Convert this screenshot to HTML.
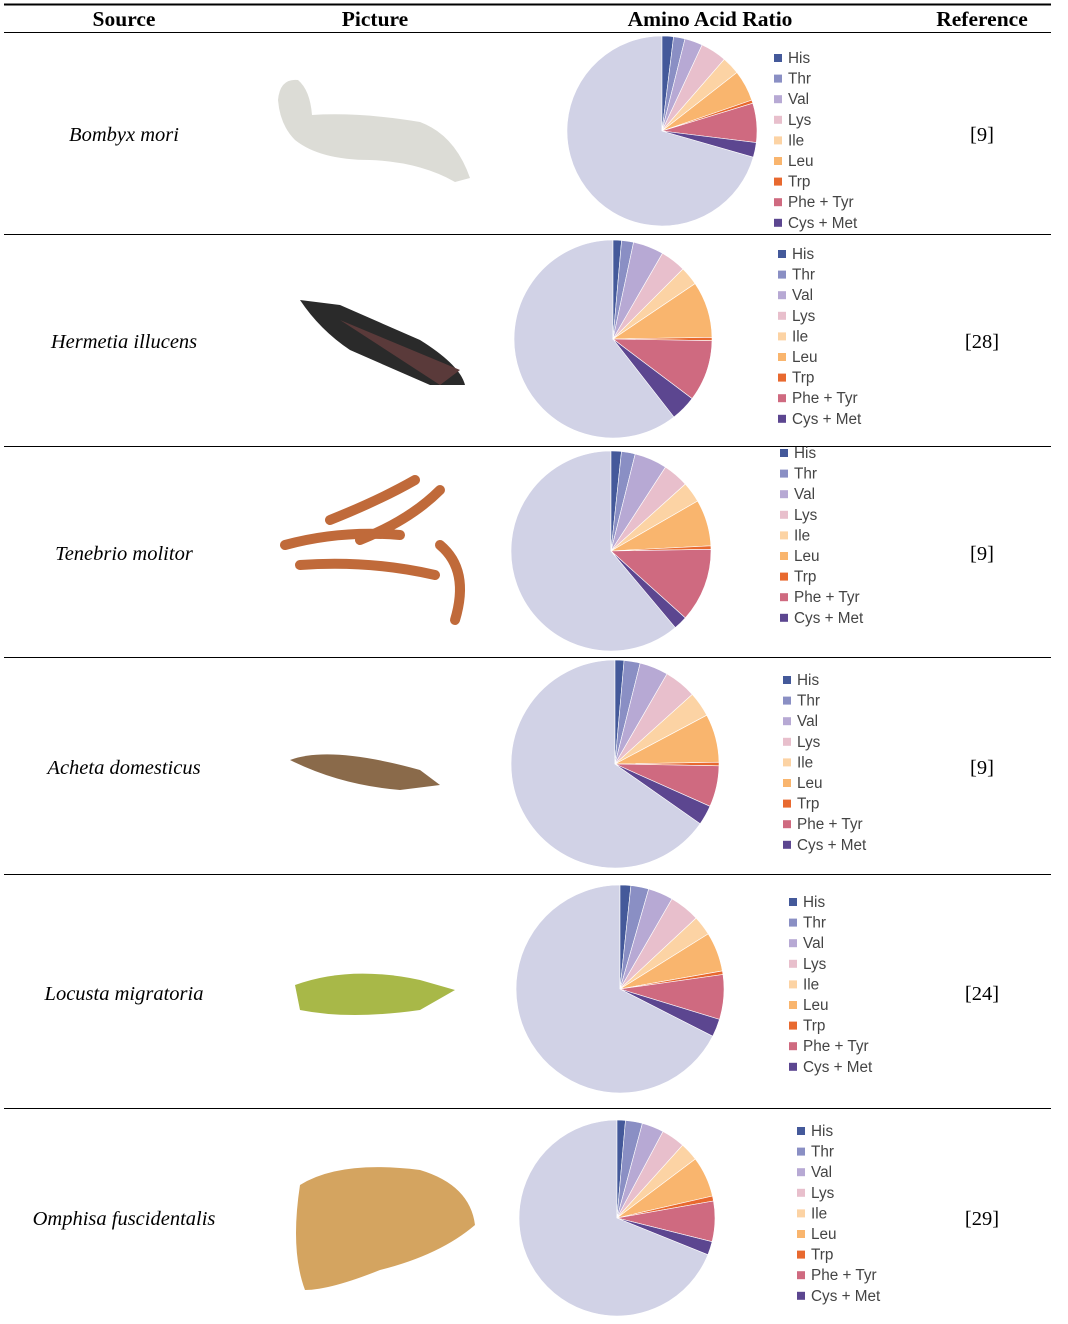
<!DOCTYPE html>
<html><head><meta charset="utf-8"><style>
html,body{margin:0;padding:0;background:#fff;}
svg{display:block}
.h{font-family:"Liberation Serif",serif;font-weight:bold;font-size:21.5px;text-anchor:middle}
.s{font-family:"Liberation Serif",serif;font-style:italic;font-size:20.5px;text-anchor:middle}
.r{font-family:"Liberation Serif",serif;font-size:20.5px;text-anchor:middle}
.l{font-family:"Liberation Sans","DejaVu Sans",sans-serif;font-size:15.3px;fill:#444}
</style></head><body>
<svg id="c" width="1068" height="1324" viewBox="0 0 1068 1324" xmlns="http://www.w3.org/2000/svg">
<rect width="1068" height="1324" fill="#fff"/>
<line x1="4" y1="4.5" x2="1051" y2="4.5" stroke="#000" stroke-width="2"/>
<line x1="4" y1="32.5" x2="1051" y2="32.5" stroke="#000" stroke-width="1"/>
<g stroke="#000" stroke-width="1">
<line x1="4" y1="234.5" x2="1051" y2="234.5"/>
<line x1="4" y1="446.5" x2="1051" y2="446.5"/>
<line x1="4" y1="657.5" x2="1051" y2="657.5"/>
<line x1="4" y1="874.5" x2="1051" y2="874.5"/>
<line x1="4" y1="1108.5" x2="1051" y2="1108.5"/>
</g>
<text class="h" x="124" y="26">Source</text>
<text class="h" x="375" y="26">Picture</text>
<text class="h" x="710" y="26">Amino Acid Ratio</text>
<text class="h" x="982" y="26">Reference</text>

<text class="s" x="124" y="141">Bombyx mori</text>
<text class="s" x="124" y="348">Hermetia illucens</text>
<text class="s" x="124" y="560">Tenebrio molitor</text>
<text class="s" x="124" y="774">Acheta domesticus</text>
<text class="s" x="124" y="1000">Locusta migratoria</text>
<text class="s" x="124" y="1225">Omphisa fuscidentalis</text>

<text class="r" x="982" y="141">[9]</text>
<text class="r" x="982" y="348">[28]</text>
<text class="r" x="982" y="560">[9]</text>
<text class="r" x="982" y="774">[9]</text>
<text class="r" x="982" y="1000">[24]</text>
<text class="r" x="982" y="1225">[29]</text>

<!-- pictures -->
<g>
<path d="M278,100 Q280,78 298,80 Q310,90 312,115 Q360,112 420,122 Q455,135 470,178 L455,182 Q420,162 370,160 Q320,160 295,140 Q280,125 278,100 Z" fill="#dcdcd6"/>
<path d="M300,300 L340,305 L420,340 Q460,365 465,385 L430,385 L350,350 Q320,330 300,300 Z" fill="#2a2a2a"/>
<path d="M340,320 L460,370 L440,385 Z" fill="#5a3a3a"/>
<g stroke="#c06a3a" stroke-width="10" stroke-linecap="round" fill="none">
<path d="M285,545 Q340,530 400,535"/><path d="M330,520 Q380,500 415,480"/>
<path d="M360,540 Q410,520 440,490"/><path d="M300,565 Q370,560 435,575"/>
<path d="M440,545 Q470,570 455,620"/>
</g>
<path d="M290,760 Q330,745 420,770 L440,785 L400,790 Q340,785 290,760 Z" fill="#8a6a4a"/>
<path d="M295,985 Q350,965 420,980 L455,990 L420,1010 Q350,1020 300,1010 Z" fill="#a8b848"/>
<path d="M300,1185 Q340,1160 420,1170 Q470,1185 475,1225 Q440,1255 380,1270 Q330,1290 305,1290 Q290,1250 300,1185 Z" fill="#d4a460"/>
</g>
<g id="pies"></g>
</svg>
<script>
var cols=["#44599a","#8a8fc4","#b7a9d4","#e8bfcc","#fcd3a4","#f9b56e","#e8692f","#cf6a80","#5c4690"];
var names=["His","Thr","Val","Lys","Ile","Leu","Trp","Phe + Tyr","Cys + Met"];
var pies=[
[662,131,95,[0,7,14,25,41,52,71,73,97,106],774,58],
[613,339,99,[0,5,12,30,45,56,89,91,127,142],778,254],
[611,551,100,[0,6,14,33,48,60,87,89,132,140],780,453],
[615,764,104,[0,5,14,30,48,62,89,91,114,125],783,680],
[620,989,104,[0,6,16,30,47,58,80,82,107,117],789,902],
[617,1218,98,[0,5,15,28,42,53,77,80,104,112],797,1131]];
var g=document.getElementById("pies"),s="";
function pt(cx,cy,r,a){a=a*Math.PI/180;return (cx+r*Math.sin(a)).toFixed(1)+","+(cy-r*Math.cos(a)).toFixed(1);}
function arc(cx,cy,r,a0,a1,c){var lg=(a1-a0)>180?1:0;return '<path d="M'+cx+','+cy+' L'+pt(cx,cy,r,a0)+' A'+r+','+r+' 0 '+lg+' 1 '+pt(cx,cy,r,a1)+' Z" fill="'+c+'" stroke="#fff" stroke-width="0.6"/>';}
pies.forEach(function(p){
var cx=p[0],cy=p[1],r=p[2],b=p[3];
s+=arc(cx,cy,r,b[9],360,"#d1d2e6");
for(var i=0;i<9;i++)s+=arc(cx,cy,r,b[i],b[i+1],cols[i]);
for(var i=0;i<9;i++){var y=p[5]+i*20.6;
s+='<rect x="'+p[4]+'" y="'+(y-4)+'" width="8" height="8" fill="'+cols[i]+'"/>';
s+='<text class="l" x="'+(p[4]+14)+'" y="'+(y+5)+'">'+names[i]+'</text>';}
});
g.innerHTML=s;
</script>
</body></html>
